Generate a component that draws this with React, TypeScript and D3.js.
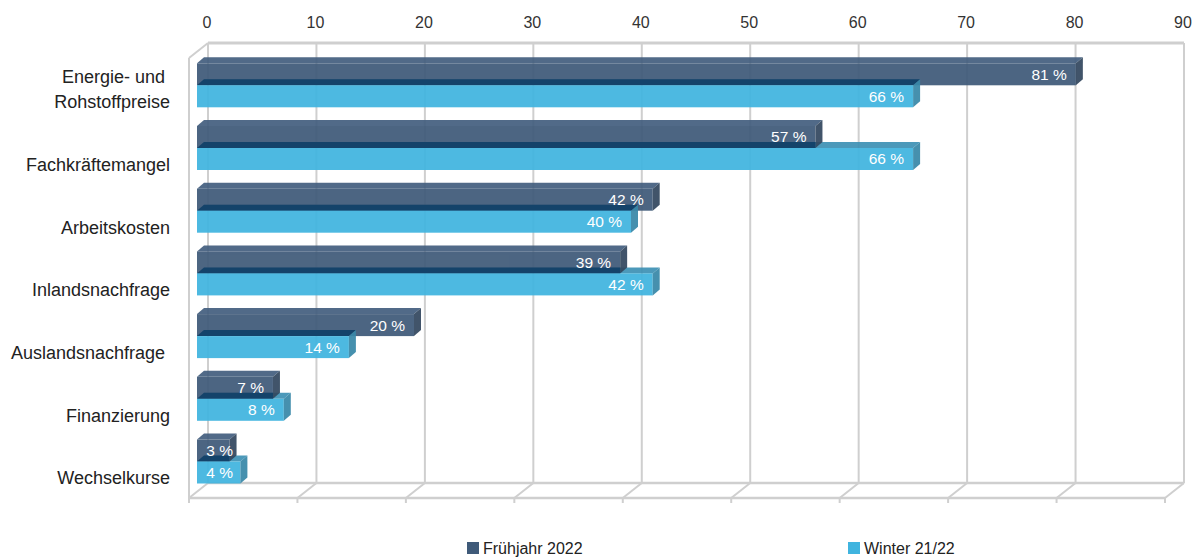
import React from 'react';
import * as d3 from 'd3';

const W = 1197;
const H = 559;

const categories = [
  'Energie- und \nRohstoffpreise',
  'Fachkräftemangel',
  'Arbeitskosten',
  'Inlandsnachfrage',
  'Auslandsnachfrage ',
  'Finanzierung',
  'Wechselkurse',
];
const seriesNames = ['Frühjahr 2022', 'Winter 21/22'];
const fruehjahr2022 = [81, 57, 42, 39, 20, 7, 3];
const winter2122 = [66, 66, 40, 42, 14, 8, 4];
const tickValues = [0, 10, 20, 30, 40, 50, 60, 70, 80, 90];

const FONT = "'Liberation Sans', Arial, sans-serif";
const GRID = '#CFCFCF';

const DARK = { front: '#3F5A79', top: '#445F7F', side: '#33485F' };
const LIGHT = { front: '#40B4DF', top: '#3D90B4', side: '#3888A8', hidden: '#0F4068' };

export default function App() {
  const xBack = d3.scaleLinear().domain([0, 90]).range([208, 1184]);
  const xBar = d3.scaleLinear().domain([0, 90]).range([197, 197 + 90 * 10.85]);
  const wallTop = 43;
  const wallBottom = 483;
  const depthDx = -19;
  const depthDy = 15;
  const barDx = 7;
  const barDy = 6;

  const y = d3
    .scaleBand<string>()
    .domain(categories)
    .range([50.95, 489.85])
    .paddingInner(0.2025)
    .paddingOuter(0.10125);

  const pts = (p: number[][]) => p.map((q) => q.join(',')).join(' ');

  const bar3d = (x0: number, x1: number, yT: number, yB: number, c: any, op: number, key: string) => (
    <g key={key} opacity={op}>
      <rect x={x0} y={yT} width={x1 - x0} height={yB - yT} fill={c.front} />
      <polygon points={pts([[x0, yT], [x1, yT], [x1 + barDx, yT - barDy], [x0 + barDx, yT - barDy]])} fill={c.top} />
      <polygon points={pts([[x1, yT], [x1, yB], [x1 + barDx, yB - barDy], [x1 + barDx, yT - barDy]])} fill={c.side} />
    </g>
  );

  const labelEnd = (v: number) => Math.max(xBar(v) - 9, xBar(0) + 36);

  return (
    <svg
      width={W}
      height={H}
      viewBox={`0 0 ${W} ${H}`}
      style={{ position: 'absolute', left: 0, top: 0, display: 'block', background: '#fff' }}
    >
      <defs>
        {categories.map((c, i) => (
          <clipPath id={`clipDark${i}`} key={c}>
            <rect x={0} y={0} width={xBar(fruehjahr2022[i])} height={H} />
          </clipPath>
        ))}
      </defs>

      {/* left side wall */}
      <g stroke={GRID} strokeWidth={2} fill="none">
        <line x1={xBack(0)} y1={wallTop} x2={xBack(0) + depthDx} y2={wallTop + depthDy} />
        <line x1={xBack(0) + depthDx} y1={wallTop + depthDy} x2={xBack(0) + depthDx} y2={wallBottom + depthDy} />
        {/* back wall top */}
        <line x1={xBack(0)} y1={wallTop} x2={xBack(90)} y2={wallTop} strokeWidth={3} />
        {/* vertical gridlines */}
        {tickValues.map((t) => (
          <line key={`g${t}`} x1={xBack(t)} y1={wallTop} x2={xBack(t)} y2={wallBottom} />
        ))}
        {/* floor */}
        <line x1={xBack(0)} y1={wallBottom} x2={xBack(90)} y2={wallBottom} strokeWidth={2.5} />
        <line x1={xBack(0) + depthDx} y1={wallBottom + depthDy} x2={xBack(90) + depthDx} y2={wallBottom + depthDy} strokeWidth={2.5} />
        {tickValues.map((t) => (
          <g key={`f${t}`}>
            <line x1={xBack(t)} y1={wallBottom} x2={xBack(t) + depthDx} y2={wallBottom + depthDy} />
            <line x1={xBack(t) + depthDx} y1={wallBottom + depthDy} x2={xBack(t) + depthDx} y2={wallBottom + depthDy + 5} />
          </g>
        ))}
      </g>

      {/* top axis labels */}
      {tickValues.map((t) => (
        <text
          key={`t${t}`}
          x={xBack(t) - 1}
          y={28}
          textAnchor="middle"
          fontFamily={FONT}
          fontSize={16}
          fill="#333"
        >
          {t}
        </text>
      ))}

      {/* bars */}
      {categories.map((c, i) => {
        const T = y(c) as number;
        const vD = fruehjahr2022[i];
        const vL = winter2122[i];
        const x0 = xBar(0);
        const xD = xBar(vD);
        const xL = xBar(vL);
        const lightTop = [[x0, T + 28], [xL, T + 28], [xL + barDx, T + 22], [x0 + barDx, T + 22]];
        return (
          <g key={`b${i}`}>
            <polygon points={pts(lightTop)} fill={LIGHT.top} opacity={0.92} />
            {bar3d(x0, xD, T + 6, T + 28, DARK, 0.93, 'd')}
            <polygon points={pts(lightTop)} fill={LIGHT.hidden} opacity={0.9} clipPath={`url(#clipDark${i})`} />
            <rect x={x0} y={T + 28} width={xL - x0} height={22} fill={LIGHT.front} opacity={0.93} />
            <polygon
              points={pts([[xL, T + 28], [xL, T + 50], [xL + barDx, T + 44], [xL + barDx, T + 22]])}
              fill={LIGHT.side}
              opacity={0.93}
            />
            <text
              x={labelEnd(vD)}
              y={T + 17}
              dy="0.35em"
              textAnchor="end"
              fontFamily={FONT}
              fontSize={15.5}
              fill="#fff"
            >
              {`${vD} %`}
            </text>
            <text
              x={labelEnd(vL)}
              y={T + 39}
              dy="0.35em"
              textAnchor="end"
              fontFamily={FONT}
              fontSize={15.5}
              fill="#fff"
            >
              {`${vL} %`}
            </text>
          </g>
        );
      })}

      {/* category labels */}
      {categories.map((c, i) => {
        const T = y(c) as number;
        const lines = c.split('\n');
        return (
          <text
            key={`c${i}`}
            textAnchor="end"
            fontFamily={FONT}
            fontSize={18}
            fill="#222"
            style={{ whiteSpace: 'pre' }}
          >
            {lines.map((ln, k) => (
              <tspan key={k} x={170} y={T + 51 - (lines.length - 1 - k) * 25}>
                {ln}
              </tspan>
            ))}
          </text>
        );
      })}

      {/* legend */}
      <g fontFamily={FONT} fontSize={16} fill="#222">
        <rect x={467} y={542} width={12} height={12} fill={DARK.front} />
        <text x={483} y={554}>{seriesNames[0]}</text>
        <rect x={848} y={542} width={12} height={12} fill={LIGHT.front} />
        <text x={864} y={554}>{seriesNames[1]}</text>
      </g>
    </svg>
  );
}
